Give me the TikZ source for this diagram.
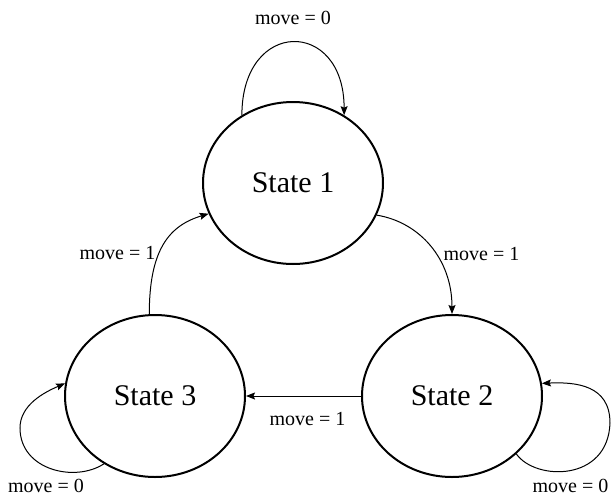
\documentclass[tikz,border=0pt]{standalone}
\usepackage{fontspec}
\setmainfont{Liberation Serif}
\usetikzlibrary{arrows.meta,shapes.geometric}
\begin{document}
\begin{tikzpicture}[x=1pt,y=-1pt,
  statebox/.style={ellipse,draw,line width=2pt,minimum width=180pt,minimum height=162pt,inner sep=0pt,font=\fontsize{30}{36}\selectfont},
  edgelabel/.style={inner sep=0pt,font=\fontsize{20}{24}\selectfont},
  conn/.style={line width=1pt,-{Stealth[length=9pt,width=7pt,inset=1.5pt]}}]
\useasboundingbox (0,0) rectangle (611,496);
\node[statebox] (s1) at (293,183) {State 1};
\node[statebox] (s2) at (452,396) {State 2};
\node[statebox] (s3) at (155,396) {State 3};
\coordinate (l3) at (20,428);
\coordinate (l2) at (610,423);
\node[edgelabel] (t1) at (293,18) {move = 0};
\node[edgelabel] (t3) at (46,485.5) {move = 0};
\node[edgelabel] (t2) at (570.5,485.5) {move = 0};
\node[edgelabel] (t31) at (117.5,253) {move = 1};
\node[edgelabel] (t12) at (481.5,254) {move = 1};
\node[edgelabel] (t23) at (307.5,419) {move = 1};
\draw[conn] (s1.127) .. controls +(0,-97) and +(0,-97) .. (s1.53);
\draw[conn] (s3.233) .. controls +(-29,19) and +(0,42) .. (l3) .. controls +(0,-23) and +(-21,9) .. (s3.172);
\draw[conn] (s2.318) .. controls +(19,27) and +(-2,59) .. (l2) .. controls +(0,-38) and +(34,-1.5) .. (s2.8);
\draw[conn] (s3.94) .. controls +(0,-64) and +(-40,12) .. (s1.200);
\draw[conn] (s1.339) .. controls +(43,7) and +(0,-55) .. (s2.north);
\draw[conn] (s2) -- (s3);
\end{tikzpicture}
\end{document}
